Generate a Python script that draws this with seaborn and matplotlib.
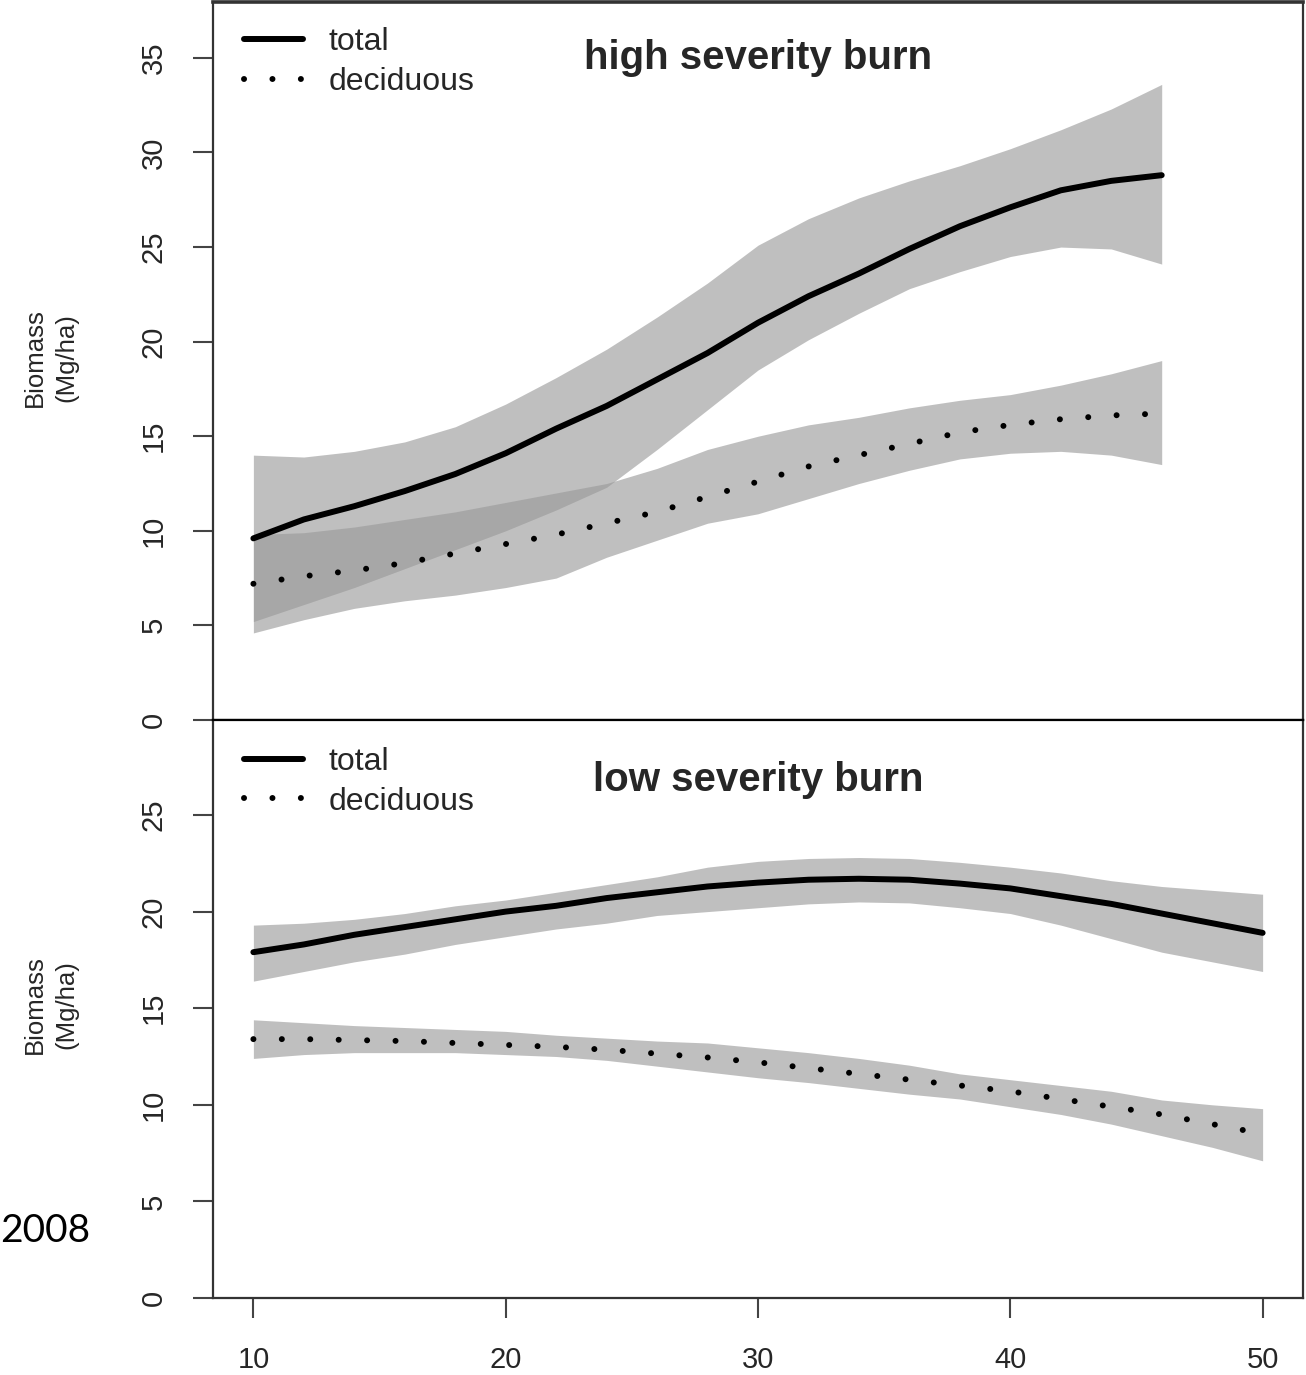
import numpy as np
import pandas as pd
import matplotlib
matplotlib.use("Agg")
import matplotlib.pyplot as plt
import seaborn as sns

# ---------------- data ----------------
# high severity burn
hi_x = [10, 12, 14, 16, 18, 20, 22, 24, 26, 28, 30, 32, 34, 36, 38, 40, 42, 44, 46]
hi_total = [9.6, 10.6, 11.3, 12.1, 13.0, 14.1, 15.4, 16.6, 18.0, 19.4, 21.0, 22.4,
            23.6, 24.9, 26.1, 27.1, 28.0, 28.5, 28.8]
hi_total_up = [14.0, 13.9, 14.2, 14.7, 15.5, 16.7, 18.1, 19.6, 21.3, 23.1, 25.1, 26.5,
               27.6, 28.5, 29.3, 30.2, 31.2, 32.3, 33.6]
hi_total_lo = [5.2, 6.1, 7.0, 8.0, 9.0, 10.0, 11.1, 12.3, 14.3, 16.4, 18.5, 20.1,
               21.5, 22.8, 23.7, 24.5, 25.0, 24.9, 24.1]
hi_decid = [7.2, 7.6, 7.9, 8.3, 8.8, 9.3, 9.8, 10.4, 11.0, 11.8, 12.6, 13.4,
            14.0, 14.6, 15.2, 15.6, 15.9, 16.1, 16.2]
hi_decid_up = [9.8, 9.9, 10.2, 10.6, 11.0, 11.5, 12.0, 12.5, 13.3, 14.3, 15.0, 15.6,
               16.0, 16.5, 16.9, 17.2, 17.7, 18.3, 19.0]
hi_decid_lo = [4.6, 5.3, 5.9, 6.3, 6.6, 7.0, 7.5, 8.6, 9.5, 10.4, 10.9, 11.7,
               12.5, 13.2, 13.8, 14.1, 14.2, 14.0, 13.5]

# low severity burn
lo_x = [10, 12, 14, 16, 18, 20, 22, 24, 26, 28, 30, 32, 34, 36, 38, 40, 42, 44, 46, 48, 50]
lo_total = [17.9, 18.3, 18.8, 19.2, 19.6, 20.0, 20.3, 20.7, 21.0, 21.3, 21.5, 21.65,
            21.7, 21.65, 21.45, 21.2, 20.8, 20.4, 19.9, 19.4, 18.9]
lo_total_up = [19.3, 19.4, 19.6, 19.9, 20.3, 20.6, 21.0, 21.4, 21.8, 22.3, 22.6, 22.75,
               22.8, 22.75, 22.55, 22.3, 22.0, 21.6, 21.3, 21.1, 20.9]
lo_total_lo = [16.4, 16.9, 17.4, 17.8, 18.3, 18.7, 19.1, 19.4, 19.8, 20.0, 20.2, 20.4,
               20.5, 20.45, 20.2, 19.9, 19.3, 18.6, 17.9, 17.4, 16.9]
lo_decid = [13.4, 13.4, 13.35, 13.3, 13.2, 13.1, 13.0, 12.85, 12.65, 12.45, 12.2, 11.9,
            11.6, 11.3, 11.0, 10.7, 10.3, 9.9, 9.5, 9.0, 8.5]
lo_decid_up = [14.4, 14.25, 14.1, 14.0, 13.9, 13.8, 13.6, 13.45, 13.3, 13.2, 12.95, 12.7,
               12.4, 12.05, 11.6, 11.3, 11.0, 10.7, 10.25, 10.0, 9.8]
lo_decid_lo = [12.4, 12.6, 12.7, 12.7, 12.7, 12.6, 12.5, 12.3, 12.0, 11.7, 11.4, 11.15,
               10.85, 10.55, 10.3, 9.9, 9.5, 9.0, 8.4, 7.8, 7.1]

series_names = ["total", "deciduous"]
titles = ["high severity burn", "low severity burn"]
x_ticks = [10, 20, 30, 40, 50]
hi_yticks = [0, 5, 10, 15, 20, 25, 30, 35]
lo_yticks = [0, 5, 10, 15, 20, 25]
ylabel = "Biomass\n(Mg/ha)"
side_note = "2008"

# ---------------- style ----------------
sns.set_style("ticks")
plt.rcParams["font.family"] = ["Liberation Sans", "DejaVu Sans"]

fig = plt.figure(figsize=(13.06, 13.75), dpi=100)
ax1 = fig.add_axes([0.1631, 0.4764, 0.8346, 0.5222])
ax2 = fig.add_axes([0.1631, 0.0560, 0.8346, 0.4204])

band_color = (0.6, 0.6, 0.6)
band_alpha = 0.62
dashes = {"total": "", "deciduous": (0.01, 4.75)}

def panel(ax, x, tot, tot_up, tot_lo, dec, dec_up, dec_lo, ylim, yticks, title, ty, ly):
    ax.fill_between(x, tot_lo, tot_up, color=band_color, alpha=band_alpha, lw=0)
    ax.fill_between(x, dec_lo, dec_up, color=band_color, alpha=band_alpha, lw=0)
    df = pd.DataFrame({
        "x": list(x) + list(x),
        "y": list(tot) + list(dec),
        "series": [series_names[0]] * len(x) + [series_names[1]] * len(x),
    })
    sns.lineplot(data=df, x="x", y="y", style="series", dashes=dashes,
                 color="black", linewidth=4.3, ax=ax, legend=False,
                 estimator=None, sort=False)
    for ln in ax.get_lines():
        ln.set_dash_capstyle("round")
        ln.set_solid_capstyle("round")
        ln.set_solid_joinstyle("round")
    handles = ax.get_lines()[:2]
    leg = ax.legend(handles, series_names, loc="upper left",
                    bbox_to_anchor=(0.008, ly), frameon=False,
                    fontsize=23, handlelength=1.85, handletextpad=0.8,
                    labelspacing=0.3, borderpad=0.2)
    for lh in leg.get_lines():
        lh.set_dash_capstyle("round")
        lh.set_solid_capstyle("round")
    ax.text(0.5, ty, title, transform=ax.transAxes, ha="center", va="center",
            fontsize=29, fontweight="bold")
    ax.set_xlim(8.4, 51.6)
    ax.set_ylim(*ylim)
    ax.set_yticks(yticks)
    ax.set_xlabel("")
    ax.set_ylabel("")
    for sp in ax.spines.values():
        sp.set_visible(True)
        sp.set_color("#333333")
        sp.set_linewidth(1.6)
    ax.tick_params(axis="both", direction="out", length=14.5, width=1.5,
                   color="#444444", labelsize=21)
    ax.tick_params(axis="y", labelrotation=90, pad=18)
    for lab in ax.get_yticklabels():
        lab.set_va("center")

panel(ax1, hi_x, hi_total, hi_total_up, hi_total_lo, hi_decid, hi_decid_up, hi_decid_lo,
      (0, 37.96), hi_yticks, titles[0], 0.922, 0.996)
panel(ax2, lo_x, lo_total, lo_total_up, lo_total_lo, lo_decid, lo_decid_up, lo_decid_lo,
      (0, 29.92), lo_yticks, titles[1], 0.896, 0.992)

ax1.tick_params(axis="x", bottom=False, labelbottom=False)
ax2.set_xticks(x_ticks)
ax2.tick_params(axis="x", pad=20)
ax1.spines["bottom"].set_color("black")
ax2.spines["top"].set_color("black")
ax1.spines["top"].set_linewidth(2.6)

fig.text(51 / 1306, 1 - 358 / 1375, ylabel, rotation=90, ha="center", va="center",
         fontsize=18.5, multialignment="center", linespacing=1.4)
fig.text(51 / 1306, 1 - 1005 / 1375, ylabel, rotation=90, ha="center", va="center",
         fontsize=18.5, multialignment="center", linespacing=1.4)
fig.text(0.0, 1 - 1231 / 1375, side_note, ha="left", va="center", fontsize=28,
         color="black", family=["Lato", "DejaVu Sans"])

fig.savefig("out.png", dpi=100)
